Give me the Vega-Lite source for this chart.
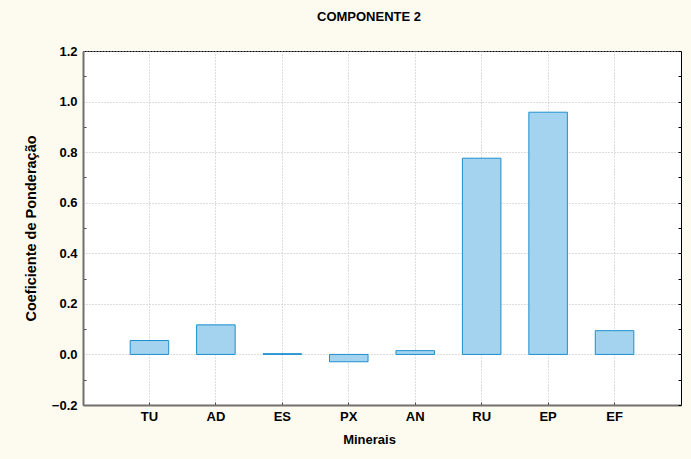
{
  "$schema": "https://vega.github.io/schema/vega-lite/v6.json",
  "width": 598,
  "height": 354,
  "autosize": {"type": "none"},
  "padding": {"left": 83, "top": 51, "right": 10, "bottom": 54},
  "background": "#FDFBF0",
  "view": {"fill": "white", "stroke": "black", "strokeWidth": 1},
  "title": {
    "text": "COMPONENTE 2",
    "font": "Liberation Sans",
    "fontSize": 13,
    "fontWeight": "bold",
    "color": "black",
    "offset": 21,
    "dx": -13
  },
  "data": {
    "values": [
      {"mineral": "TU", "coef": 0.055},
      {"mineral": "AD", "coef": 0.117},
      {"mineral": "ES", "coef": 0.003},
      {"mineral": "PX", "coef": -0.029},
      {"mineral": "AN", "coef": 0.015},
      {"mineral": "RU", "coef": 0.776},
      {"mineral": "EP", "coef": 0.958},
      {"mineral": "EF", "coef": 0.094}
    ]
  },
  "resolve": {"axis": {"y": "independent"}},
  "layer": [
    {
      "mark": {"type": "bar", "fill": "#A3D3EE", "stroke": "#1E8FD0", "strokeWidth": 1},
      "encoding": {
        "x": {
          "field": "mineral",
          "type": "nominal",
          "sort": null,
          "scale": {"paddingInner": 0.42, "paddingOuter": 0.71},
          "axis": {
            "title": "Minerais",
            "titleFont": "Liberation Sans",
            "titleFontSize": 13,
            "titleFontWeight": "bold",
            "titleColor": "black",
            "titlePadding": 10,
            "titleX": 286,
            "labelAngle": 0,
            "labelFont": "Liberation Sans",
            "labelFontSize": 13,
            "labelFontWeight": "bold",
            "labelColor": "black",
            "labelPadding": 8,
            "bandPosition": 0.5,
            "grid": true,
            "gridColor": "#BBBBBB",
            "gridDash": [1, 2],
            "ticks": true,
            "tickSize": -3,
            "tickColor": "#444444",
            "domainColor": "#707070",
            "domainWidth": 2
          }
        },
        "y": {
          "field": "coef",
          "type": "quantitative",
          "scale": {"domain": [-0.2, 1.2], "nice": false, "zero": false},
          "axis": {
            "title": "Coeficiente de Ponderação",
            "titleFont": "Liberation Sans",
            "titleFontSize": 14.5,
            "titleFontWeight": "bold",
            "titleColor": "black",
            "titlePadding": 13,
            "values": [-0.2, -0.1, 0, 0.1, 0.2, 0.3, 0.4, 0.5, 0.6, 0.7, 0.8, 0.9, 1.0, 1.1, 1.2],
            "labelExpr": "abs(round(datum.value*10)) % 2 == 0 ? format(datum.value, '.1f') : ''",
            "labelFont": "Liberation Sans",
            "labelFontSize": 13,
            "labelFontWeight": "bold",
            "labelColor": "black",
            "labelPadding": 9,
            "ticks": true,
            "tickSize": -3,
            "tickColor": "#444444",
            "tickOpacity": {"condition": {"test": "abs(round(datum.value*10)) % 2 == 1", "value": 1}, "value": 0},
            "grid": true,
            "gridColor": "#BBBBBB",
            "gridDash": [1, 2],
            "gridOpacity": {"condition": {"test": "abs(round(datum.value*10)) % 2 == 1", "value": 0}, "value": 1},
            "domainColor": "#707070",
            "domainWidth": 2
          }
        }
      }
    },
    {
      "mark": {"type": "tick", "opacity": 0},
      "encoding": {
        "y": {
          "field": "coef",
          "type": "quantitative",
          "axis": {
            "orient": "right",
            "title": null,
            "labels": false,
            "grid": false,
            "domain": false,
            "values": [-0.2, -0.1, 0, 0.1, 0.2, 0.3, 0.4, 0.5, 0.6, 0.7, 0.8, 0.9, 1.0, 1.1, 1.2],
            "tickSize": -3,
            "tickColor": "black"
          }
        }
      }
    }
  ]
}
